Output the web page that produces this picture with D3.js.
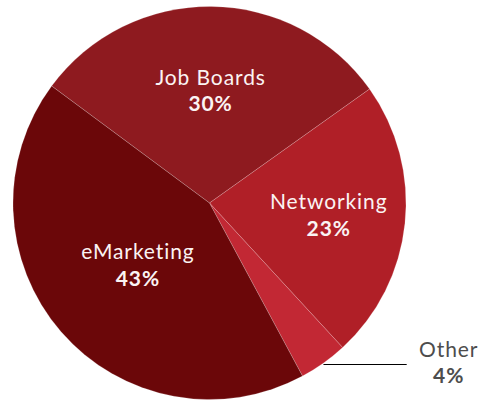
<!DOCTYPE html>
<html>
<head>
<meta charset="utf-8">
<script src="https://cdn.jsdelivr.net/npm/d3@7/dist/d3.min.js"></script>
<style>
  html, body { margin: 0; padding: 0; background: #fff; }
  svg { display: block; }
  text { font-family: Lato, "Open Sans", sans-serif; letter-spacing: 0.9px; }
</style>
</head>
<body>
<svg id="chart" width="479" height="403"></svg>
<script>
// Share of hires by channel (percent)
const categories = ["Job Boards", "Networking", "Other", "eMarketing"];
const shares = [30, 23, 4, 43];
const sliceColors = ["#8e1a1f", "#b01f27", "#c22834", "#6b0709"];
// Slices too thin to hold their label get an outside callout
const outsideLabels = ["Other"];

const width = 479, height = 403;
const cx = 209.5, cy = 203, radius = 196.5;
const startAngle = -53.45 * Math.PI / 180;

const svg = d3.select("#chart");
const g = svg.append("g").attr("transform", `translate(${cx},${cy})`);

const data = categories.map((name, i) => ({ name, value: shares[i], color: sliceColors[i] }));

const pie = d3.pie()
  .value(d => d.value)
  .sort(null)
  .startAngle(startAngle)
  .endAngle(startAngle + 2 * Math.PI);

const arcs = pie(data);
const arc = d3.arc().innerRadius(0).outerRadius(radius);

g.selectAll("path.slice")
  .data(arcs)
  .join("path")
  .attr("class", "slice")
  .attr("d", arc)
  .attr("fill", d => d.data.color)
  .attr("stroke", "rgba(255,255,255,0.3)")
  .attr("stroke-width", 0.6);

// Inside labels sit at the area centroid of each sector
function sectorCentroid(d) {
  const half = (d.endAngle - d.startAngle) / 2;
  const mid = d.startAngle + half;
  const dist = (2 * radius * Math.sin(half)) / (3 * half);
  return [dist * Math.sin(mid), -dist * Math.cos(mid)];
}

const inside = arcs.filter(d => !outsideLabels.includes(d.data.name));
const labels = g.selectAll("g.label")
  .data(inside)
  .join("g")
  .attr("class", "label")
  .attr("transform", d => `translate(${sectorCentroid(d)})`);

labels.append("text")
  .attr("text-anchor", "middle")
  .attr("y", -6)
  .attr("fill", "#fbf3f3")
  .style("font-size", "21px")
  .text(d => d.data.name);

labels.append("text")
  .attr("text-anchor", "middle")
  .attr("y", 20.6)
  .attr("fill", "#fbf3f3")
  .style("font-size", "21px")
  .style("font-weight", "700")
  .text(d => d.data.value + "%");

// Callout for small slices: horizontal leader from the rim
const outside = arcs.filter(d => outsideLabels.includes(d.data.name));
const lineEndX = 406.7 - cx;
outside.forEach(d => {
  const mid = (d.startAngle + d.endAngle) / 2;
  const x0 = radius * Math.sin(mid);
  const y0 = -radius * Math.cos(mid);
  const ly = Math.ceil(y0) + 0.5;
  g.append("line")
    .attr("x1", x0).attr("y1", ly)
    .attr("x2", lineEndX).attr("y2", ly)
    .attr("stroke", "#000")
    .attr("stroke-width", 1);
  const tx = lineEndX + 42;
  g.append("text")
    .attr("x", tx).attr("y", y0 - 6.5)
    .attr("text-anchor", "middle")
    .attr("fill", "#4d4d4d")
    .style("font-size", "21px")
    .text(d.data.name);
  g.append("text")
    .attr("x", tx).attr("y", y0 + 20)
    .attr("text-anchor", "middle")
    .attr("fill", "#4d4d4d")
    .style("font-size", "21px")
    .style("font-weight", "700")
    .text(d.data.value + "%");
});
</script>
</body>
</html>
